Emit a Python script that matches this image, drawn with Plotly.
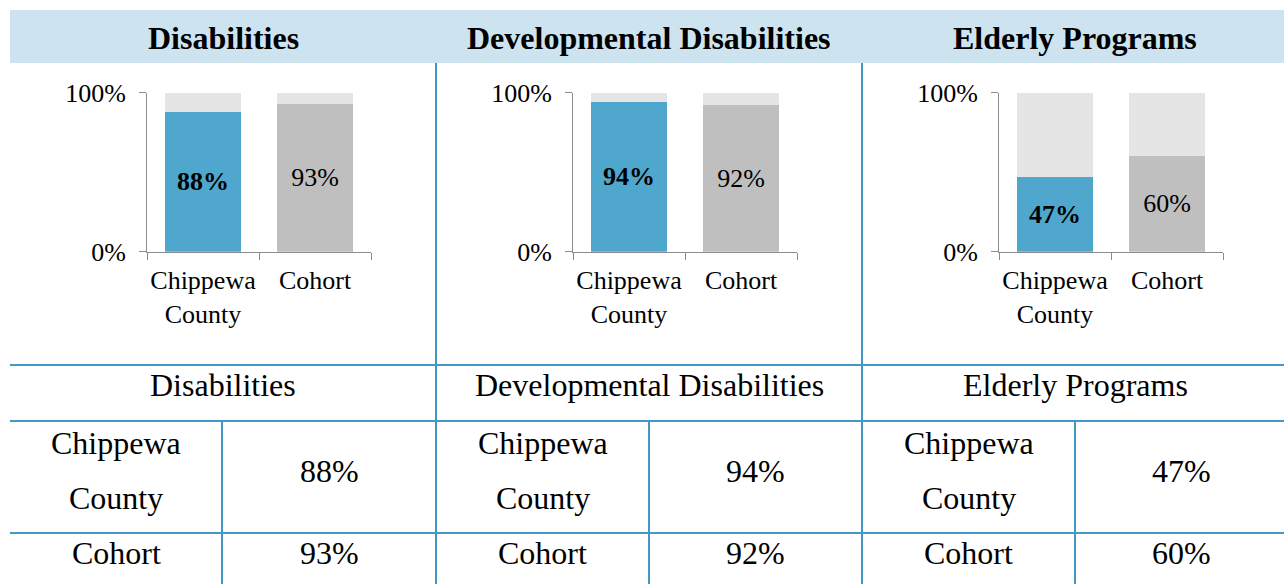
import plotly.graph_objects as go

programs = ["Disabilities", "Developmental Disabilities", "Elderly Programs"]
groups = ["Chippewa County", "Cohort"]
tick_groups = ["Chippewa<br>County", "Cohort"]
county_vals = [88, 94, 47]
cohort_vals = [93, 92, 60]

W, H = 1284, 584
FONT = "Liberation Serif, Times New Roman, serif"
BLUE = "#4FA7CD"
GRAY = "#BFBFBF"
REST = "#E5E5E5"
LINE = "#4297C7"
AXIS = "#8C8C8C"


def px(x):
    return x / W


def py(y):
    return 1 - y / H


fig = go.Figure()
offsets = [0, 426, 852]
col_left = [10, 436, 862]
col_right = [436, 862, 1288]
col_mid = [222, 649, 1075]
annotations = []
shapes = []

for i, prog in enumerate(programs):
    vals = [county_vals[i], cohort_vals[i]]
    texts = [f"<b>{county_vals[i]}%</b>", f"{cohort_vals[i]}%"]
    xa = "x" if i == 0 else f"x{i+1}"
    ya = "y" if i == 0 else f"y{i+1}"
    fig.add_trace(go.Bar(
        x=tick_groups, y=vals, xaxis=xa, yaxis=ya,
        marker=dict(color=[BLUE, GRAY], line=dict(width=0)),
        width=0.67, text=texts, textposition="inside",
        insidetextanchor="middle", constraintext="none",
        textfont=dict(family=FONT, size=26, color="black"),
        hoverinfo="skip", showlegend=False,
    ))
    fig.add_trace(go.Bar(
        x=tick_groups, y=[100 - v for v in vals], xaxis=xa, yaxis=ya,
        marker=dict(color=REST, line=dict(width=0)),
        width=0.67, hoverinfo="skip", showlegend=False,
    ))
    o = offsets[i]
    xkey = "xaxis" if i == 0 else f"xaxis{i+1}"
    ykey = "yaxis" if i == 0 else f"yaxis{i+1}"
    fig.update_layout(**{
        xkey: dict(
            domain=[px(147 + o), px(371 + o)], anchor=ya,
            range=[-0.5, 1.5], showline=True, linecolor=AXIS, linewidth=1,
            ticks="outside", tickson="boundaries", ticklen=7, tickcolor=AXIS,
            tickangle=0, automargin=False, ticklabelstandoff=5,
            tickfont=dict(family=FONT, size=26, color="black"),
            showgrid=False, fixedrange=True,
        ),
        ykey: dict(
            domain=[py(251.7), py(92.5)], anchor=xa,
            range=[0, 100], tickvals=[0, 100], ticktext=["0%", "100%"],
            showline=True, linecolor=AXIS, linewidth=1,
            ticks="outside", ticklen=7, tickcolor=AXIS,
            showgrid=True, gridcolor="#A6A6A6", gridwidth=1,
            zeroline=False, automargin=False, ticklabelstandoff=8,
            tickfont=dict(family=FONT, size=26, color="black"),
            fixedrange=True,
        ),
    })

    cx = (col_left[i] + col_right[i]) / 2
    lcx = (col_left[i] + col_mid[i]) / 2
    rcx = (col_mid[i] + col_right[i]) / 2

    def ann(x, y, text, size=32):
        annotations.append(dict(x=px(x), y=py(y), xref="paper", yref="paper",
                                text=text, showarrow=False,
                                xanchor="center", yanchor="middle",
                                font=dict(family=FONT, size=size, color="black")))

    ann(cx, 38, f"<b>{prog}</b>", 32)
    ann(cx, 385, prog)
    ann(lcx, 443, "Chippewa")
    ann(lcx, 498, "County")
    ann(rcx, 471, f"{county_vals[i]}%")
    ann(lcx, 553, groups[1])
    ann(rcx, 553, f"{cohort_vals[i]}%")
    shapes.append(dict(type="line", xref="paper", yref="paper",
                       x0=px(col_mid[i]), x1=px(col_mid[i]), y0=py(421), y1=py(584),
                       line=dict(color=LINE, width=2)))

# header band
shapes.insert(0, dict(type="rect", xref="paper", yref="paper",
                      x0=px(10), x1=px(1284), y0=py(63), y1=py(10),
                      fillcolor="#CDE4F0", line=dict(width=0), layer="below"))
for xv in [436, 862]:
    shapes.append(dict(type="line", xref="paper", yref="paper",
                       x0=px(xv), x1=px(xv), y0=py(63), y1=py(584),
                       line=dict(color=LINE, width=2)))
for yv in [365, 421, 533]:
    shapes.append(dict(type="line", xref="paper", yref="paper",
                       x0=px(10), x1=px(1284), y0=py(yv), y1=py(yv),
                       line=dict(color=LINE, width=2)))

fig.update_layout(
    width=W, height=H, margin=dict(l=0, r=0, t=0, b=0, pad=0, autoexpand=False),
    paper_bgcolor="white", plot_bgcolor="white",
    barmode="stack", bargap=0.33, showlegend=False,
    annotations=annotations, shapes=shapes,
    font=dict(family=FONT, color="black"),
)
fig.write_html("out.html", config={"displayModeBar": False},
               post_script="document.body.style.margin='0';")
